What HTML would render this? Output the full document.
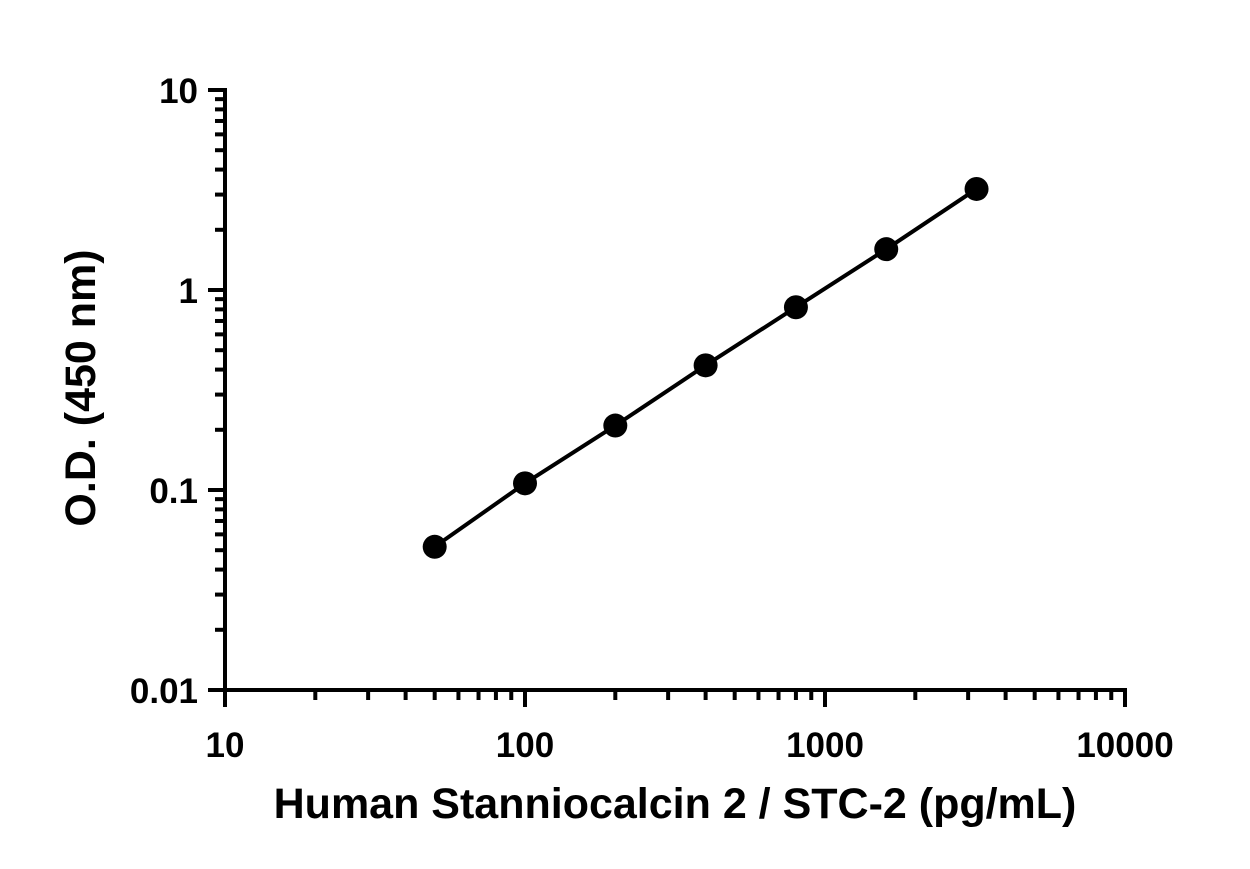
<!DOCTYPE html>
<html><head><meta charset="utf-8"><style>
body{margin:0;background:#fff;}
svg{display:block;}
text{font-family:"Liberation Sans",sans-serif;font-weight:bold;fill:#000;}
</style></head><body>
<svg id="chart" width="1250" height="869" viewBox="0 0 1250 869" xmlns="http://www.w3.org/2000/svg">
<g id="axes"></g>
<g id="series"></g>
<text x="675" y="818" text-anchor="middle" font-size="43">Human Stanniocalcin 2 / STC-2 (pg/mL)</text>
<text transform="translate(95,388) rotate(-90)" text-anchor="middle" font-size="43">O.D. (450 nm)</text>
</svg>
<script>
const concentrations = [50, 100, 200, 400, 800, 1600, 3200];
const odValues = [0.052, 0.108, 0.21, 0.42, 0.82, 1.6, 3.2];
const xTickLabels = ["10", "100", "1000", "10000"];
const yTickLabels = ["0.01", "0.1", "1", "10"];
const NS = "http://www.w3.org/2000/svg";
const X0 = 225, XD = 300, Y0 = 690, YD = 200;
function xs(v){ return X0 + (Math.log10(v) - 1) * XD; }
function ys(v){ return Y0 - (Math.log10(v) + 2) * YD; }
function mk(tag, attrs, parent){ const e = document.createElementNS(NS, tag); for (const k in attrs) e.setAttribute(k, attrs[k]); parent.appendChild(e); return e; }
const axes = document.getElementById('axes');
const ser = document.getElementById('series');
let l = mk('line', {x1: X0, y1: Y0, x2: xs(10000) + 2, y2: Y0, stroke: '#000', 'stroke-width': 4}, axes);


l = mk('line', {x1: X0, y1: ys(10) - 2, x2: X0, y2: Y0 + 2, stroke: '#000', 'stroke-width': 4}, axes);


xTickLabels.forEach((t, i) => {
  const v = Math.pow(10, i + 1);
  const x = xs(v);
  const tk = mk('line', {x1: x, y1: Y0, x2: x, y2: Y0 + 17, stroke: '#000', 'stroke-width': 4}, axes);
  
  
  const tx = mk('text', {x: x, y: 757, 'text-anchor': 'middle', 'font-size': 35}, axes);
  tx.textContent = t;
  
  
  if (i < 3) for (let m = 2; m <= 9; m++) {
    const mx = xs(v * m);
    const mt = mk('line', {x1: mx, y1: Y0, x2: mx, y2: Y0 + 10, stroke: '#000', 'stroke-width': 4}, axes);
    
    
  }
});
yTickLabels.forEach((t, i) => {
  const v = Math.pow(10, i - 2);
  const y = ys(v);
  const tk = mk('line', {x1: X0 - 17, y1: y, x2: X0, y2: y, stroke: '#000', 'stroke-width': 4}, axes);
  
  
  const tx = mk('text', {x: 198, y: y + 13, 'text-anchor': 'end', 'font-size': 35}, axes);
  tx.textContent = t;
  
  
  if (i < 3) for (let m = 2; m <= 9; m++) {
    const my = ys(v * m);
    const mt = mk('line', {x1: X0 - 10, y1: my, x2: X0, y2: my, stroke: '#000', 'stroke-width': 4}, axes);
    
    
  }
});
const pts = concentrations.map((c, i) => xs(c) + ',' + ys(odValues[i])).join(' ');
const pl = mk('polyline', {points: pts, fill: 'none', stroke: '#000', 'stroke-width': 4}, ser);


concentrations.forEach((c, i) => {
  const p = mk('circle', {cx: xs(c), cy: ys(odValues[i]), r: 12, fill: '#000'}, ser);
  
  
});
</script>
</body></html>
